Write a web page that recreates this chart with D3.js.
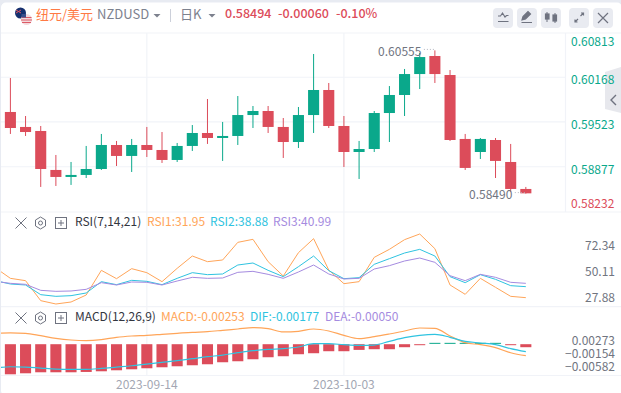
<!DOCTYPE html>
<html>
<head>
<meta charset="utf-8">
<script src="https://cdn.jsdelivr.net/npm/d3@7"></script>
<style>
  html, body { margin: 0; padding: 0; background: #fff; }
  svg { display: block; }
  text { font-family: "Noto Sans CJK SC", "Noto Sans", sans-serif; }
</style>
</head>
<body>
<div id="chart"></div>
<script>
// -------------------------------
// NZDUSD daily kline + RSI + MACD
// -------------------------------

const dates = ["2023-08-31", "2023-09-01", "2023-09-04", "2023-09-05", "2023-09-06", "2023-09-07", "2023-09-08",
  "2023-09-11", "2023-09-12", "2023-09-13", "2023-09-14", "2023-09-15", "2023-09-18", "2023-09-19", "2023-09-20",
  "2023-09-21", "2023-09-22", "2023-09-25", "2023-09-26", "2023-09-27", "2023-09-28", "2023-09-29", "2023-10-02",
  "2023-10-03", "2023-10-04", "2023-10-05", "2023-10-06", "2023-10-09", "2023-10-10", "2023-10-11", "2023-10-12",
  "2023-10-13", "2023-10-16", "2023-10-17", "2023-10-18", "2023-10-19"];
const dateTicks = ["2023-09-14", "2023-10-03"];

// candles start at 09-01, the 08-31 slot only feeds the indicator lines
const opens = [0.59667, 0.59451, 0.59393, 0.58831, 0.58730, 0.58759, 0.58845, 0.59191, 0.59033, 0.59191, 0.59119,
  0.58975, 0.59177, 0.59364, 0.59292, 0.59321, 0.59623, 0.59681, 0.59451, 0.59234, 0.59623, 0.59984, 0.59465,
  0.59090, 0.59133, 0.59652, 0.59912, 0.60214, 0.60474, 0.60200, 0.59278, 0.59090, 0.59263, 0.58946, 0.58557];
const closes = [0.59436, 0.59378, 0.58845, 0.58730, 0.58759, 0.58845, 0.59191, 0.59033, 0.59191, 0.59119, 0.58975,
  0.59177, 0.59364, 0.59292, 0.59321, 0.59623, 0.59681, 0.59451, 0.59234, 0.59623, 0.59984, 0.59465, 0.59090,
  0.59133, 0.59652, 0.59912, 0.60214, 0.60459, 0.60214, 0.59263, 0.58860, 0.59278, 0.58961, 0.58557, 0.58494];
const highs = [0.60157, 0.59609, 0.59465, 0.59047, 0.58946, 0.59177, 0.59350, 0.59249, 0.59278, 0.59451, 0.59378,
  0.59220, 0.59479, 0.59854, 0.59523, 0.59897, 0.59753, 0.59753, 0.59580, 0.59739, 0.60503, 0.60085, 0.59609,
  0.59249, 0.59681, 0.60041, 0.60287, 0.60517, 0.60555, 0.60272, 0.59350, 0.59292, 0.59292, 0.59206, 0.58586];
const lows = [0.59350, 0.59321, 0.58586, 0.58600, 0.58615, 0.58715, 0.58831, 0.58888, 0.58802, 0.59018, 0.58932,
  0.58946, 0.59105, 0.59206, 0.58961, 0.59191, 0.59436, 0.59364, 0.59004, 0.59148, 0.59364, 0.59436, 0.58874,
  0.58701, 0.59090, 0.59234, 0.59609, 0.59998, 0.60085, 0.59249, 0.58831, 0.58989, 0.58715, 0.58514, 0.58490];
const priceTicks = [0.60813, 0.60168, 0.59523, 0.58877, 0.58232];
const priceGrid = [0.60168, 0.59523, 0.58877];

const rsi1 = [53.41, 44.22, 42.21, 24.98, 22.11, 23.83, 29.86, 51.11, 43.94, 52.55, 49.11, 41.35, 52.84, 63.46, 58.58,
  60.02, 75.24, 77.82, 58.58, 46.23, 66.34, 78.40, 51.40, 39.63, 41.35, 62.32, 69.21, 77.54, 82.42, 69.78, 38.48,
  30.44, 44.22, 36.47, 28.71, 27.56];
const rsi2 = [42.21, 39.34, 38.48, 30.15, 28.71, 29.29, 31.59, 41.35, 38.77, 42.50, 41.64, 38.77, 44.22, 49.11, 47.38,
  47.96, 55.71, 57.43, 51.11, 45.66, 54.27, 63.46, 50.83, 43.94, 44.80, 56.28, 61.17, 66.05, 69.21, 63.46, 45.66,
  40.49, 47.38, 43.36, 37.90, 37.04];
const rsi3 = [41.64, 39.91, 39.05, 33.88, 33.02, 33.31, 34.74, 40.49, 38.48, 41.06, 40.78, 38.48, 41.92, 45.08, 44.22,
  44.51, 49.39, 50.25, 47.67, 44.22, 49.68, 55.71, 47.96, 43.65, 44.22, 52.26, 55.14, 59.16, 61.74, 58.01, 46.52,
  42.21, 47.67, 45.08, 40.78, 39.91];
const rsiTicks = [72.34, 50.11, 27.88];

const macdLine = [0.00487, 0.00498, 0.00487, 0.00412, 0.00327, 0.00273, 0.00252, 0.00284, 0.00359, 0.00401, 0.00423,
  0.00455, 0.00487, 0.00519, 0.00541, 0.00583, 0.00626, 0.00669, 0.00637, 0.00530, 0.00551, 0.00626, 0.00562, 0.00423,
  0.00316, 0.00380, 0.00466, 0.00562, 0.00658, 0.00648, 0.00401, 0.00187, 0.00123, 0.00027, -0.00134, -0.00230];
const difLine = [-0.00626, -0.00583, -0.00594, -0.00626, -0.00658, -0.00669, -0.00669, -0.00637, -0.00594, -0.00551,
  -0.00497, -0.00444, -0.00390, -0.00326, -0.00262, -0.00209, -0.00134, -0.00069, -0.00027, -0.00005, 0.00048, 0.00155,
  0.00155, 0.00123, 0.00102, 0.00112, 0.00230, 0.00348, 0.00423, 0.00455, 0.00359, 0.00230, 0.00177, 0.00123, -0.00005,
  -0.00102];
const macdBars = [-0.02530, -0.02445, -0.02360, -0.02360, -0.02360, -0.02332, -0.02276, -0.02192, -0.02108, -0.02023,
  -0.01939, -0.01855, -0.01770, -0.01686, -0.01517, -0.01433, -0.01265, -0.01096, -0.01012, -0.00843, -0.00759, -0.00590,
  -0.00590, -0.00478, -0.00422, -0.00422, -0.00253, -0.00030, 0.00030, 0.00030, 0.00030, 0.00030, 0.00030, -0.00030,
  -0.00253];
const macdTicks = [0.00273, -0.00154, -0.00582];

const RED = "#dc4c5a";
const GREEN = "#0aa88b";
const ORANGE = "#ffa559";
const CYAN = "#2fc3e0";
const PURPLE = "#a58be0";
const GRID = "#f1f3f8";
const GRAY = "#71757f";

const width = 621;
const height = 393;
const plotRight = 565.5;

const svg = d3.select("#chart").append("svg")
  .attr("width", width)
  .attr("height", height)
  .attr("viewBox", `0 0 ${width} ${height}`);

// page background behind the white card
svg.append("rect").attr("width", width).attr("height", height).attr("fill", "#e8ebf2");
svg.append("rect").attr("x", 1).attr("y", 2.5).attr("width", width).attr("height", height)
  .attr("rx", 5).attr("fill", "#fff");

svg.append("defs").append("clipPath").attr("id", "plot-clip")
  .append("rect").attr("x", 1).attr("y", 33).attr("width", plotRight).attr("height", 345);

// Scales
const x = d3.scaleBand()
  .domain(dates)
  .range([-12.34, 533.42])
  .paddingInner(0.27)
  .paddingOuter(0.135);
const cx = d => x(d) + x.bandwidth() / 2;

const yPrice = d3.scaleLinear().domain([0.58232, 0.60813]).range([211.5, 32.5]);
const yRsi = d3.scaleLinear().domain([27.88, 72.34]).range([297.3, 245.7]);
const yMacd = d3.scaleLinear().domain([-0.00582, 0.00273]).range([366.7, 340]);
const yBars = d3.scaleLinear().domain([-0.0253, 0]).range([374.3, 344.2]);

// Grid and panel borders
const grid = svg.append("g").attr("stroke", GRID).attr("stroke-width", 1.2);
grid.selectAll("line.h").data(priceGrid).enter().append("line")
  .attr("x1", 1).attr("x2", plotRight)
  .attr("y1", d => yPrice(d)).attr("y2", d => yPrice(d));
grid.selectAll("line.v").data(dateTicks).enter().append("line")
  .attr("x1", cx).attr("x2", cx)
  .attr("y1", 33).attr("y2", 376);
[33, 212, 306.7, 375.5].forEach(y => {
  grid.append("line").attr("x1", 1).attr("x2", width).attr("y1", y).attr("y2", y);
});
grid.append("line").attr("x1", plotRight).attr("x2", plotRight).attr("y1", 33).attr("y2", 212);

// Candles
const candles = d3.range(opens.length).map(i => ({
  date: dates[i + 1], open: opens[i], close: closes[i], high: highs[i], low: lows[i]
}));
const candleColor = d => d.close >= d.open ? GREEN : RED;

svg.append("g").selectAll("line").data(candles).enter().append("line")
  .attr("x1", d => cx(d.date)).attr("x2", d => cx(d.date))
  .attr("y1", d => yPrice(d.high)).attr("y2", d => yPrice(d.low))
  .attr("stroke", candleColor).attr("stroke-width", 1);

svg.append("g").selectAll("rect").data(candles).enter().append("rect")
  .attr("x", d => x(d.date))
  .attr("y", d => yPrice(Math.max(d.open, d.close)))
  .attr("width", x.bandwidth())
  .attr("height", d => Math.max(1.5, Math.abs(yPrice(d.open) - yPrice(d.close))))
  .attr("fill", candleColor);

// High / low markers
function extremeLabel(value, date) {
  const px = cx(date);
  const py = yPrice(value);
  svg.append("text").attr("x", px - 13.5).attr("y", py + 2.5)
    .attr("text-anchor", "end").attr("dominant-baseline", "middle")
    .attr("font-size", 12).attr("fill", GRAY).text(value.toFixed(5));
  svg.append("line").attr("x1", px - 11).attr("x2", px).attr("y1", py - 1).attr("y2", py - 1)
    .attr("stroke", "#b4b7c0").attr("stroke-dasharray", "1 2");
}
extremeLabel(d3.max(highs), candles[d3.maxIndex(highs)].date);
extremeLabel(d3.min(lows), candles[d3.minIndex(lows)].date);

// Indicator lines
function drawLine(values, yScale, color, curve, strokeWidth) {
  const line = d3.line()
    .x((d, i) => cx(dates[i]))
    .y(d => yScale(d))
    .curve(curve || d3.curveLinear);
  svg.append("path")
    .datum(values)
    .attr("clip-path", "url(#plot-clip)")
    .attr("fill", "none")
    .attr("stroke", color)
    .attr("stroke-width", strokeWidth || 1)
    .attr("d", line);
}

drawLine(rsi1, yRsi, ORANGE);
drawLine(rsi2, yRsi, CYAN);
drawLine(rsi3, yRsi, PURPLE);

// MACD histogram, drawn on its own scale
svg.append("g").selectAll("rect").data(macdBars).enter().append("rect")
  .attr("x", (d, i) => x(dates[i + 1]))
  .attr("y", d => yBars(Math.max(d, 0)) - (d > 0 ? 1 : 0))
  .attr("width", x.bandwidth())
  .attr("height", d => Math.max(1, Math.abs(yBars(d) - yBars(0))))
  .attr("fill", d => d > 0 ? GREEN : RED);

drawLine(macdLine, yMacd, ORANGE, d3.curveMonotoneX, 1.2);
drawLine(difLine, yMacd, CYAN, d3.curveMonotoneX, 1.2);

// side tab, sits under the price labels
svg.append("path").attr("d", "M605,72 L621,67 V113 L605,109 Z").attr("fill", "#e7e8ed");
svg.append("path").attr("d", "M616,95 l-5,5 l5,5").attr("fill", "none").attr("stroke", "#6f7380").attr("stroke-width", 1.4);

// Axes
function cleanAxis(g) {
  g.select(".domain").remove();
  g.selectAll(".tick line").remove();
  g.selectAll("text").style("font-family", '"Noto Sans CJK SC", "Noto Sans", sans-serif').style("font-size", "12px");
}

const priceAxis = svg.append("g")
  .attr("transform", "translate(565,0)")
  .call(d3.axisRight(yPrice).tickValues(priceTicks).tickFormat(d3.format(".5f")).tickSize(0).tickPadding(6))
  .call(cleanAxis);
priceAxis.selectAll("text")
  .attr("fill", d => d === priceTicks[priceTicks.length - 1] ? RED : GREEN)
  .attr("dy", d => d === priceTicks[0] ? "1.12em" : d === priceTicks[priceTicks.length - 1] ? "-0.3em" : "0.52em");

[[yRsi, rsiTicks, ".2f"], [yMacd, macdTicks, ".5f"]].forEach(([scale, ticks, fmt]) => {
  svg.append("g")
    .attr("transform", "translate(615,0)")
    .call(d3.axisLeft(scale).tickValues(ticks).tickFormat(d3.format(fmt)).tickSize(0).tickPadding(0))
    .call(cleanAxis)
    .selectAll("text").attr("fill", GRAY).attr("dy", "0.35em");
});

svg.append("g")
  .attr("transform", "translate(0,378)")
  .call(d3.axisBottom(x).tickValues(dateTicks).tickSize(0).tickPadding(0))
  .call(cleanAxis)
  .selectAll("text").attr("fill", "#a3a7b3").attr("dy", "0.95em");

// Header
function label(px, py, txt, color, size, weight) {
  return svg.append("text").attr("x", px).attr("y", py)
    .attr("dominant-baseline", "middle")
    .attr("font-size", size || 12).attr("font-weight", weight || 400)
    .attr("fill", color).text(txt);
}

label(36, 15, "纽元/美元", "#ff7a45", 13);
label(97, 15, "NZDUSD", "#7d818e", 13);
label(180, 15, "日K", "#7d818e", 13);
label(225, 15, "0.58494", RED, 12.5, 500);
label(278, 15, "-0.00060", RED, 12.5, 500);
label(336, 15, "-0.10%", RED, 12.5, 500);

svg.append("line").attr("x1", 170.5).attr("x2", 170.5).attr("y1", 9).attr("y2", 22).attr("stroke", "#ccd0da");
[157, 212].forEach(px => {
  svg.append("path").attr("d", `M${px - 3.5},14 h7 l-3.5,3.5 z`).attr("fill", "#7d818e");
});

// flags
svg.append("circle").attr("cx", 20.5).attr("cy", 13).attr("r", 5.5).attr("fill", "#15306f");
svg.append("path").attr("d", "M16,10 l5,3 M21,10 l-5,3").attr("stroke", "#e0525f").attr("stroke-width", 1);
svg.append("circle").attr("cx", 26.5).attr("cy", 19.5).attr("r", 5.5).attr("fill", "#f3d9dc");
svg.append("path").attr("d", "M21.5,17.5 h10 M21,20 h11 M22,22.5 h9").attr("stroke", "#dc5a66").attr("stroke-width", 1);
svg.append("rect").attr("x", 21.5).attr("y", 14).attr("width", 4.5).attr("height", 3.5).attr("fill", "#3a4f8c");

// toolbar buttons
const buttonXs = [493, 517, 541, 569, 593];
svg.append("g").selectAll("rect").data(buttonXs).enter().append("rect")
  .attr("x", d => d).attr("y", 8).attr("width", 20).attr("height", 20).attr("rx", 4)
  .attr("fill", "#e9ebf1");
const btn = svg.append("g").attr("fill", "none").attr("stroke", "#6f7380").attr("stroke-width", 1.2);
btn.append("path").attr("d", "M498,16 h2.5 l2,-3 l2.5,4 l1.5,-1.5 h2 M498,21.5 h10.5");
btn.append("path").attr("d", "M522,20 l1,-3.5 l5,-5 l2.5,2.5 l-5,5 z M521.5,22.5 h10.5").attr("fill", "#6f7380");
btn.append("path").attr("d", "M547,12 v10 M555,13 v10").attr("stroke-width", 1);
btn.append("rect").attr("x", 545.5).attr("y", 14).attr("width", 3.5).attr("height", 5).attr("fill", "#6f7380");
btn.append("rect").attr("x", 553).attr("y", 15).attr("width", 3.5).attr("height", 6).attr("fill", "#6f7380");
btn.append("path").attr("d", "M575,22 l3,-3 M580.5,16 l3,-3 M575,19.5 v2.5 h2.5 M581,13 h2.5 v2.5");
btn.append("path").attr("d", "M598,13 l10,10 M608,13 l-10,10");

// Indicator legends
function legendRow(py, name, items) {
  const ic = svg.append("g").attr("fill", "none").attr("stroke", "#6f7380").attr("stroke-width", 1);
  ic.append("path").attr("d", `M15.5,${py - 5.5} l11,11 M26.5,${py - 5.5} l-11,11`);
  ic.append("path").attr("d", `M40.5,${py - 6} l5,3 v6 l-5,3 l-5,-3 v-6 z`);
  ic.append("circle").attr("cx", 40.5).attr("cy", py).attr("r", 2);
  ic.append("rect").attr("x", 55.5).attr("y", py - 5.5).attr("width", 11).attr("height", 11);
  ic.append("path").attr("d", `M58,${py} h6 M61,${py - 3} v6`);
  label(75, py, name, "#33363f");
  items.forEach(d => label(d.x, py, d.text, d.color));
}

legendRow(223, "RSI(7,14,21)", [
  { x: 147, text: "RSI1:31.95", color: ORANGE },
  { x: 210, text: "RSI2:38.88", color: CYAN },
  { x: 273, text: "RSI3:40.99", color: PURPLE }
]);
legendRow(318, "MACD(12,26,9)", [
  { x: 161, text: "MACD:-0.00253", color: ORANGE },
  { x: 250, text: "DIF:-0.00177", color: CYAN },
  { x: 325, text: "DEA:-0.00050", color: PURPLE }
]);
</script>
</body>
</html>
